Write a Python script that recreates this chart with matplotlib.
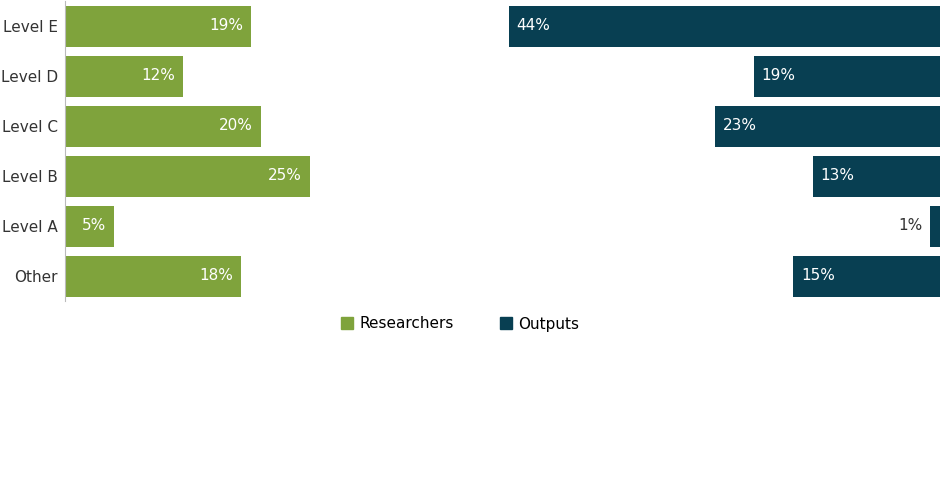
import matplotlib.pyplot as plt
from matplotlib.patches import Patch

categories = ["Level E", "Level D", "Level C", "Level B", "Level A", "Other"]
researchers = [19, 12, 20, 25, 5, 18]
outputs = [44, 19, 23, 13, 1, 15]

GREEN = "#7fa33c"
TEAL = "#083f52"
W, H = 945, 499
fig = plt.figure(figsize=(W/100, H/100), dpi=100)
x0, x1 = 65, 940
ytop, ybot = 1, 301
ax = fig.add_axes([x0/W, 1-ybot/H, (x1-x0)/W, (ybot-ytop)/H])
scale = 9.8
XMAX = (x1-x0)/scale
ys = list(range(len(categories)))
ax.barh(ys, researchers, height=0.82, color=GREEN)
ax.barh(ys, outputs, left=[XMAX-v for v in outputs], height=0.82, color=TEAL)
for y, v in zip(ys, researchers):
    ax.text(v-0.8, y, f"{v}%", color="white", ha="right", va="center", fontsize=11)
for y, v in zip(ys, outputs):
    if v >= 3:
        ax.text(XMAX-v+0.8, y, f"{v}%", color="white", ha="left", va="center", fontsize=11)
    else:
        ax.text(XMAX-v-0.8, y, f"{v}%", color="#333333", ha="right", va="center", fontsize=11)
ax.set_xlim(0, XMAX)
ax.set_ylim(len(categories)-0.5, -0.5)
ax.set_yticks(ys)
ax.set_yticklabels(categories, fontsize=11, color="#333333")
ax.tick_params(axis="y", length=0, pad=5)
ax.set_xticks([])
for s in ["top", "right", "bottom"]:
    ax.spines[s].set_visible(False)
ax.spines["left"].set_color("#bbbbbb")
fig.legend(handles=[Patch(color=GREEN, label="Researchers"), Patch(color=TEAL, label="Outputs")],
           loc="center", bbox_to_anchor=(460/W, 1-324/H), ncol=2, frameon=False,
           fontsize=11, handlelength=0.8, handleheight=0.8, columnspacing=3, handletextpad=0.4)
fig.savefig("out.png", dpi=100)
